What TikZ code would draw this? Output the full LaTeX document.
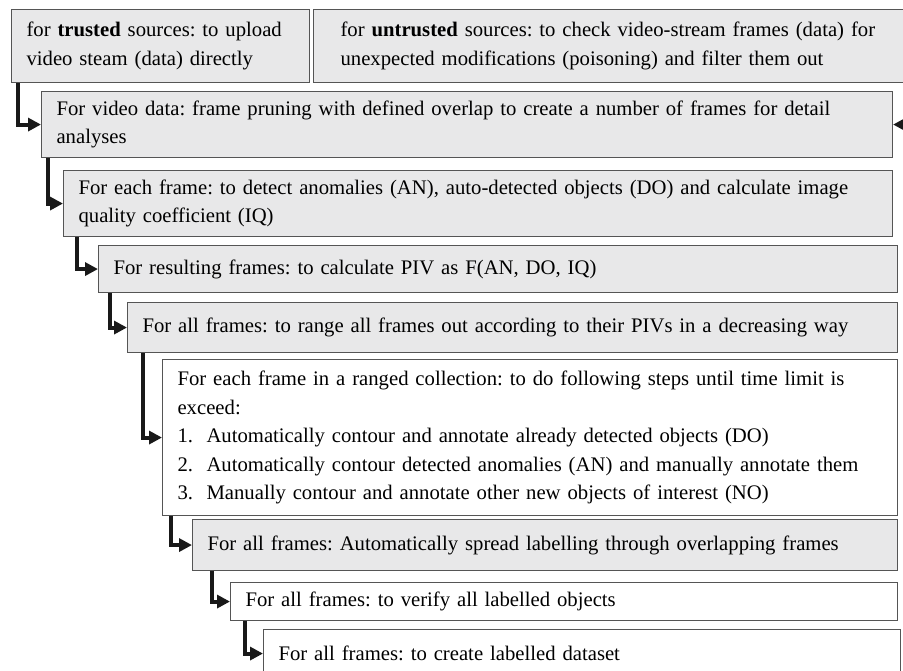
\documentclass[tikz,border=0pt]{standalone}
\usepackage{fontspec}
\setmainfont{Liberation Serif}
\usetikzlibrary{arrows.meta}
\definecolor{boxgray}{RGB}{232,232,233}
\definecolor{edgegray}{RGB}{85,85,85}
\definecolor{arrowblack}{RGB}{25,25,25}
\frenchspacing
\begin{document}
\begin{tikzpicture}[x=1pt,y=-1pt,
  box/.style={draw=edgegray, line width=1.1pt, anchor=north west, inner xsep=15pt, inner ysep=0pt, align=left, font=\fontsize{20.7}{28.5}\selectfont\frenchspacing},
  gbox/.style={box, fill=boxgray},
  wbox/.style={box, fill=white},
  arr/.style={draw=arrowblack, line width=4pt, -{Triangle[length=13pt,width=13pt]}}
]
\useasboundingbox (0,0) rectangle (903,670);
\clip (0,0) rectangle (903,670);

\node[gbox, minimum width=298pt, minimum height=73pt, text width=268pt] (A) at (11,9)
  {for \textbf{trusted} sources: to upload\\video steam (data) directly};
\node[gbox, inner xsep=27pt, minimum width=617pt, minimum height=73pt, text width=563pt] (B) at (313,9)
  {for \textbf{untrusted} sources: to check video-stream frames (data) for\\unexpected modifications (poisoning) and filter them out};
\node[gbox, minimum width=851pt, minimum height=66pt, text width=821pt] (b2) at (41,91)
  {For video data: frame pruning with defined overlap to create a number of frames for detail\\analyses};
\node[gbox, minimum width=829pt, minimum height=66pt, text width=799pt] (b3) at (63,170)
  {For each frame: to detect anomalies (AN), auto-detected objects (DO) and calculate image\\quality coefficient (IQ)};
\node[gbox, minimum width=799pt, minimum height=47pt, text width=769pt] (b4) at (98,245)
  {For resulting frames: to calculate PIV as F(AN, DO, IQ)};
\node[gbox, minimum width=770pt, minimum height=50pt, text width=740pt] (b5) at (127,302)
  {For all frames: to range all frames out according to their PIVs in a decreasing way};
\node[wbox, minimum width=735pt, minimum height=156pt, text width=705pt] (b6) at (162,359)
  {\makebox[664pt][s]{For each frame in a ranged collection: to do following steps until time limit is}\\
   exceed:\\
   \makebox[29pt][l]{1.}Automatically contour and annotate already detected objects (DO)\\
   \makebox[29pt][l]{2.}Automatically contour detected anomalies (AN) and manually annotate them\\
   \makebox[29pt][l]{3.}Manually contour and annotate other new objects of interest (NO)};
\node[gbox, minimum width=705pt, minimum height=51pt, text width=675pt] (b7) at (192,519)
  {For all frames: Automatically spread labelling through overlapping frames};
\node[wbox, minimum width=667pt, minimum height=38pt, text width=637pt] (b8) at (230,582)
  {For all frames: to verify all labelled objects};
\node[wbox, minimum width=637pt, minimum height=48pt, text width=607pt] (b9) at (263,629)
  {For all frames: to create labelled dataset};

\draw[arr] ([xshift=7pt]A.south west) |- (b2.west);
\draw[arr] (B.south east) |- (b2.east);
\draw[arr] ([xshift=7pt]b2.south west) |- (b3.west);
\draw[arr] ([xshift=14pt]b3.south west) |- (b4.west);
\draw[arr] ([xshift=12pt]b4.south west) |- (b5.west);
\draw[arr] ([xshift=16pt]b5.south west) |- (b6.west);
\draw[arr] ([xshift=9pt]b6.south west) |- (b7.west);
\draw[arr] ([xshift=20pt]b7.south west) |- (b8.west);
\draw[arr] ([xshift=15pt]b8.south west) |- (b9.west);
\end{tikzpicture}
\end{document}
